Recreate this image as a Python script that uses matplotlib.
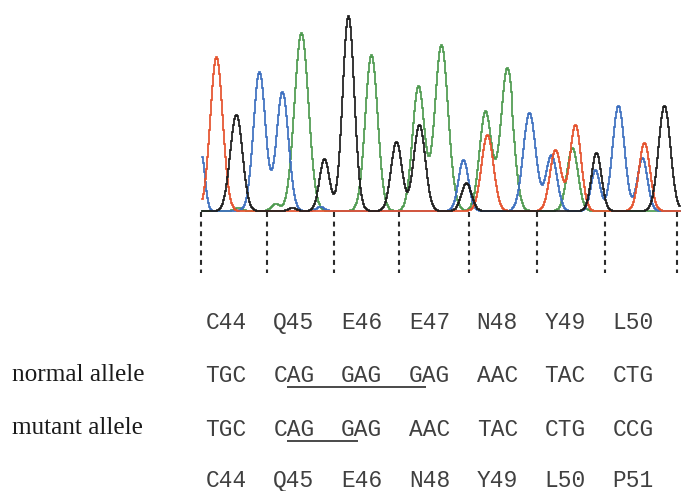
import numpy as np
import matplotlib
matplotlib.use("Agg")
import matplotlib.pyplot as plt

W, H = 682, 491

# ---- chromatogram peaks: (scan position, height, width) per channel ----
red_pos   = [216, 487, 556, 576, 645]
red_h     = [154, 76, 61, 86, 68]
red_w     = [6.2, 6.0, 5.6, 5.6, 5.5]

black_pos = [236, 324, 348, 396, 419, 466, 597, 665, 228, 292]
black_h   = [96, 52, 195, 69, 86, 28, 58, 105, 3, 3]
black_w   = [6.0, 5.0, 5.8, 5.5, 5.8, 5.0, 5.0, 6.0, 4, 4]

blue_pos  = [201, 259, 282, 463, 530, 552, 596, 619, 643, 320]
blue_h    = [56, 139, 119, 51, 98, 56, 41, 105, 53, 4]
blue_w    = [3.5, 6.0, 6.0, 5.0, 6.3, 5.5, 4.5, 6.0, 5.0, 4]

green_pos = [301, 371, 418, 441, 485, 507, 573, 275, 238, 455]
green_h   = [178, 156, 125, 166, 99, 143, 63, 7, 3, 3]
green_w   = [7.0, 6.2, 6.0, 6.6, 6.0, 6.6, 5.5, 4, 4, 4]

# codon boundaries (scan positions of dashed lines)
boundaries = [201, 267, 334, 399, 469, 537, 605, 677]

# ---- sequence rows ----
aa_normal  = ["C44", "Q45", "E46", "E47", "N48", "Y49", "L50"]
nt_normal  = ["TGC", "CAG", "GAG", "GAG", "AAC", "TAC", "CTG"]
nt_mutant  = ["TGC", "CAG", "GAG", "AAC", "TAC", "CTG", "CCG"]
aa_mutant  = ["C44", "Q45", "E46", "N48", "Y49", "L50", "P51"]
row_labels = ["normal allele", "mutant allele"]

# underlined spans: (start codon, start char, end codon, end char)
under_normal = (1, 1, 3, 1)
under_mutant = (1, 1, 2, 1)

colors = {"red": "#e5522d", "black": "#1c1c1c", "blue": "#3d6fbf", "green": "#4e9a4f"}

fig = plt.figure(figsize=(W / 100, H / 100), dpi=100)
fig.patch.set_facecolor("white")

# chromatogram axes (scan units == pixel columns)
x0, x1 = 202, 680
base_y, top_y = 212, 10
ax = fig.add_axes([x0 / W, 1 - base_y / H, (x1 - x0) / W, (base_y - top_y) / H])
ax.set_xlim(x0, x1)
ax.set_ylim(-1, base_y - top_y - 1)
ax.axis("off")

xs = np.arange(x0, x1 + 0.5, 1.0)

def trace(pos, h, w):
    y = np.zeros_like(xs)
    for p, hh, ww in zip(pos, h, w):
        y += hh * np.exp(-0.5 * ((xs - p) / ww) ** 2)
    return y

for name, pos, h, w in [("green", green_pos, green_h, green_w),
                        ("blue", blue_pos, blue_h, blue_w),
                        ("red", red_pos, red_h, red_w),
                        ("black", black_pos, black_h, black_w)]:
    ax.plot(xs, trace(pos, h, w), color=colors[name], lw=1.25,
            drawstyle="steps-mid", solid_joinstyle="miter", clip_on=False)

# overlay axes in pixel coordinates for text and dashed lines
ov = fig.add_axes([0, 0, 1, 1])
ov.set_xlim(0, W)
ov.set_ylim(H, 0)
ov.axis("off")

for b in boundaries:
    ov.plot([b, b], [212, 273], color="#2a2a2a", lw=1.5,
            linestyle=(0, (2.4, 2.2)))

mono_size = 16.5
mono = dict(family=["Liberation Mono", "DejaVu Sans Mono"], fontsize=mono_size, color="#404040")
serif = dict(family=["Liberation Serif", "DejaVu Serif"], fontsize=18.2, color="#1a1a1a")

col_x0, col_dx = 205.5, 67.8
char_w = 0.6 * mono_size * 100 / 72
row_base = [329, 382, 436, 487]
rows = [aa_normal, nt_normal, nt_mutant, aa_mutant]
for r, (items, yb) in enumerate(zip(rows, row_base)):
    for i, s in enumerate(items):
        ov.text(col_x0 + i * col_dx, yb, s, ha="left", va="baseline", **mono)

ov.text(12, row_base[1] - 1, row_labels[0], ha="left", va="baseline", **serif)
ov.text(12, row_base[2] - 2, row_labels[1], ha="left", va="baseline", **serif)

for (c0, ch0, c1, ch1), yb in [(under_normal, row_base[1]), (under_mutant, row_base[2])]:
    xa = col_x0 + c0 * col_dx + ch0 * char_w
    xb = col_x0 + c1 * col_dx + ch1 * char_w + 3
    ov.plot([xa, xb], [yb + 5, yb + 5], color="#3a3a3a", lw=1.3, solid_capstyle="butt")

fig.savefig("out.png", dpi=100, facecolor="white")
